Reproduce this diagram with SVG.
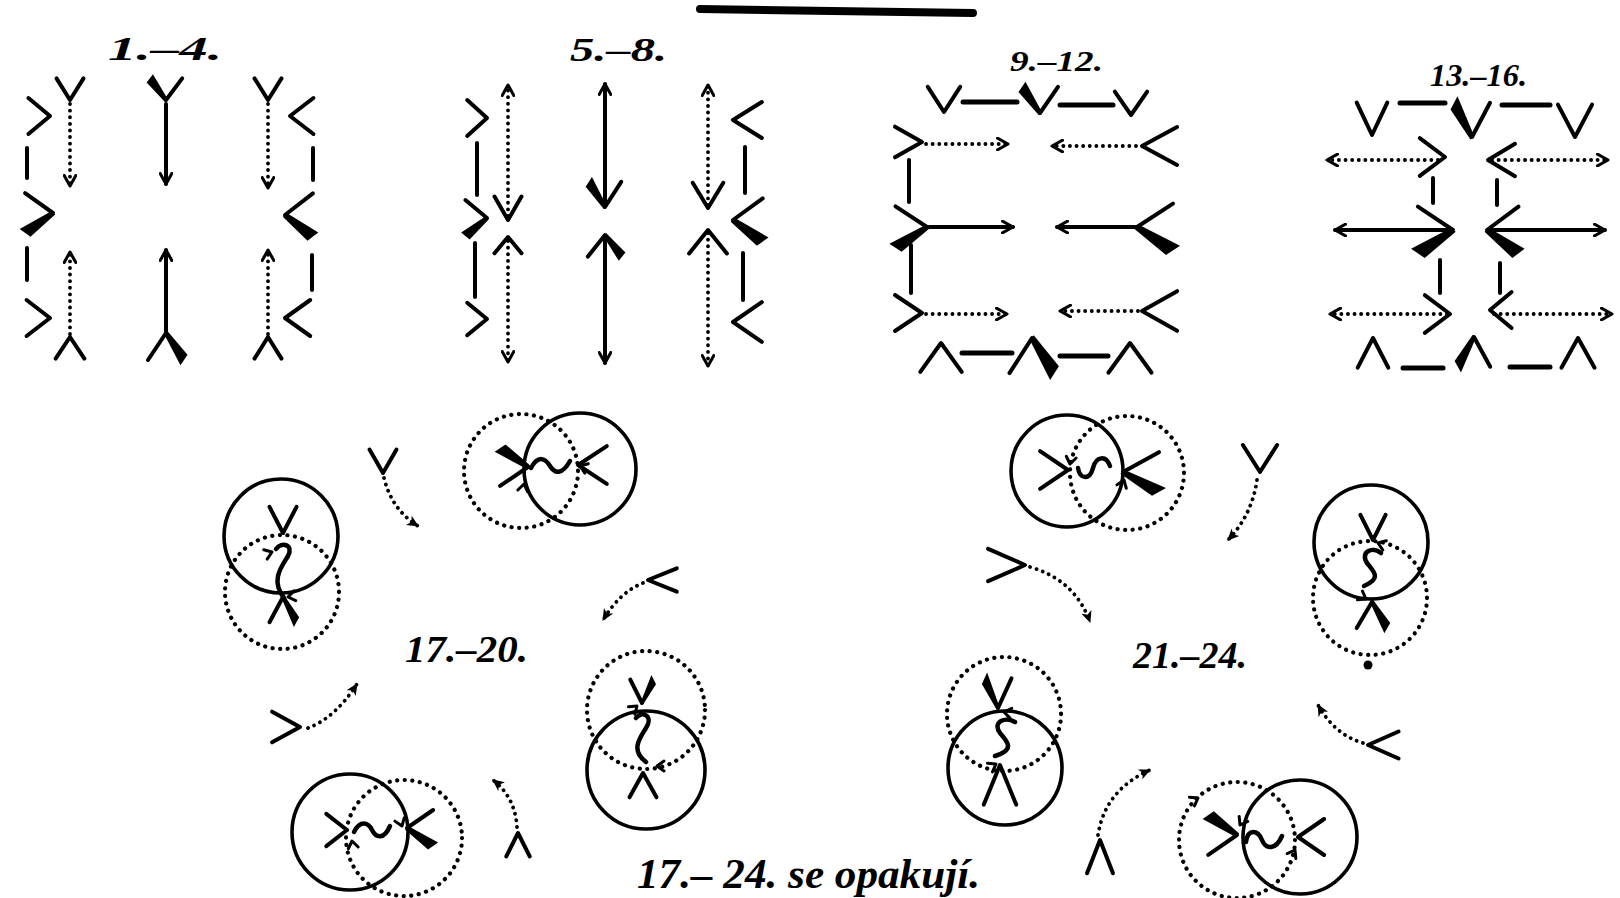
<svg xmlns="http://www.w3.org/2000/svg" width="1620" height="898" viewBox="0 0 1620 898">
<style>
.t{font-family:"Liberation Serif","DejaVu Serif",serif;font-style:italic;font-weight:bold;fill:#000}
.s{fill:none;stroke:#000;stroke-width:4;stroke-linecap:round;stroke-linejoin:round}
.d{fill:none;stroke:#000;stroke-width:3.8;stroke-linecap:round;stroke-dasharray:0.1 6.5}
.c{fill:none;stroke:#000;stroke-width:3.6}
.cd{fill:none;stroke:#000;stroke-width:4.2;stroke-linecap:round;stroke-dasharray:0.1 7.5}
.w{fill:none;stroke:#000;stroke-width:5;stroke-linecap:round}
.g{fill:none;stroke:#000;stroke-width:4.5;stroke-linecap:round;stroke-linejoin:round}
</style>
<defs>
<marker id="ao" viewBox="0 0 12 12" refX="10" refY="6" markerWidth="14" markerHeight="14" markerUnits="userSpaceOnUse" orient="auto"><path d="M1,1 L10,6 L1,11" fill="none" stroke="#000" stroke-width="2.6" stroke-linecap="round" stroke-linejoin="round"/></marker>
<marker id="af" viewBox="0 0 12 12" refX="10" refY="6" markerWidth="13" markerHeight="13" markerUnits="userSpaceOnUse" orient="auto"><path d="M0,1 L11,6 L0,11 L3,6 z" fill="#000"/></marker>
<path id="c" d="M-18,-18 L0,0 L-18,18" fill="none" stroke="#000" stroke-width="4" stroke-linecap="round" stroke-linejoin="round" vector-effect="non-scaling-stroke"/>
<g id="cb"><path d="M-18,-18 L0,0" fill="none" stroke="#000" stroke-width="4" stroke-linecap="round" vector-effect="non-scaling-stroke"/><polygon points="1.4,1.4 -14.5,21.5 -21.5,14.5 -1.4,-1.4" fill="#000"/></g>
<path id="sa" d="M-7,-5 L0,0 L-7,5" fill="none" stroke="#000" stroke-width="3" stroke-linecap="round" stroke-linejoin="round"/>
</defs>
<rect width="1620" height="898" fill="#fff"/>
<path d="M700,9 L973,13" stroke="#000" stroke-width="8" stroke-linecap="round" fill="none"/>

<g id="p1-4">
<text class="t" x="108" y="60" font-size="34" textLength="114" lengthAdjust="spacingAndGlyphs">1.–4.</text>
<use href="#c" transform="translate(70,100) rotate(90) scale(1.2,0.75)"/>
<use href="#c" transform="translate(50,116) scale(1.2,1.0)"/>
<line class="s" x1="27" y1="148" x2="27" y2="178"/>
<use href="#cb" transform="translate(53,213) scale(1.55,1.1)"/>
<line class="s" x1="27" y1="248" x2="27" y2="280"/>
<use href="#c" transform="translate(50,318) scale(1.3,1.0)"/>
<use href="#c" transform="translate(70,337) rotate(-90) scale(1.2,0.8)"/>
<use href="#cb" transform="translate(166,100) rotate(90) scale(1.2,0.9)"/>
<use href="#cb" transform="translate(166,333) rotate(-90) scale(1.5,1.0)"/>
<use href="#c" transform="translate(268,100) rotate(90) scale(1.2,0.75)"/>
<use href="#c" transform="translate(290,116) scale(-1.3,1.0)"/>
<line class="s" x1="313" y1="148" x2="313" y2="180"/>
<use href="#cb" transform="translate(285,215) scale(-1.55,1.2)"/>
<line class="s" x1="312" y1="255" x2="312" y2="290"/>
<use href="#c" transform="translate(285,318) scale(-1.4,1.0)"/>
<use href="#c" transform="translate(268,337) rotate(-90) scale(1.2,0.75)"/>
</g>

<g id="p5-8">
<text class="t" x="570" y="61" font-size="34" textLength="97" lengthAdjust="spacingAndGlyphs">5.–8.</text>
<use href="#c" transform="translate(487,118) scale(1.1,1.0)"/>
<line class="s" x1="477" y1="143" x2="477" y2="195"/>
<use href="#cb" transform="translate(487,218) scale(1.2,1.0)"/>
<line class="s" x1="475" y1="243" x2="475" y2="297"/>
<use href="#c" transform="translate(487,319) scale(1.1,0.9)"/>
<use href="#c" transform="translate(508,220) rotate(90) scale(1.3,0.75)"/>
<use href="#c" transform="translate(508,237) rotate(-90) scale(0.9,0.75)"/>
<use href="#cb" transform="translate(605,207) rotate(90) scale(1.4,0.9)"/>
<use href="#cb" transform="translate(605,235) rotate(-90) scale(1.2,0.95)"/>
<use href="#c" transform="translate(708,208) rotate(90) scale(1.4,0.85)"/>
<use href="#c" transform="translate(708,230) rotate(-90) scale(1.3,1.05)"/>
<use href="#c" transform="translate(733,120) scale(-1.6,1.0)"/>
<line class="s" x1="745" y1="147" x2="745" y2="193"/>
<use href="#cb" transform="translate(733,220) scale(-1.65,1.2)"/>
<line class="s" x1="743" y1="253" x2="743" y2="300"/>
<use href="#c" transform="translate(733,322) scale(-1.6,1.1)"/>
</g>

<g id="p9-12">
<text class="t" x="1010" y="71" font-size="30" textLength="93" lengthAdjust="spacingAndGlyphs">9.–12.</text>
<use href="#c" transform="translate(944,112) rotate(90) scale(1.4,0.9)"/>
<line class="w" x1="963" y1="102" x2="1017" y2="102"/>
<use href="#cb" transform="translate(1040,113) rotate(90) scale(1.45,1.0)"/>
<line class="w" x1="1060" y1="105" x2="1113" y2="105"/>
<use href="#c" transform="translate(1131,115) rotate(90) scale(1.3,0.9)"/>
<use href="#c" transform="translate(922,142) scale(1.5,0.85)"/>
<use href="#c" transform="translate(1142,146) scale(-1.95,1.05)"/>
<line class="s" x1="909" y1="160" x2="909" y2="202"/>
<use href="#cb" transform="translate(927,227) scale(1.75,1.15)"/>
<use href="#cb" transform="translate(1137,227) scale(-2.0,1.3)"/>
<line class="s" x1="911" y1="245" x2="911" y2="293"/>
<use href="#c" transform="translate(922,313) scale(1.5,1.0)"/>
<use href="#c" transform="translate(1142,311) scale(-1.95,1.1)"/>
<use href="#c" transform="translate(941,343) rotate(-90) scale(1.6,1.15)"/>
<line class="w" x1="962" y1="353" x2="1012" y2="353"/>
<use href="#cb" transform="translate(1032,338) rotate(-90) scale(1.95,1.25)"/>
<line class="w" x1="1060" y1="356" x2="1108" y2="356"/>
<use href="#c" transform="translate(1130,343) rotate(-90) scale(1.65,1.2)"/>
</g>

<g id="p13-16">
<text class="t" x="1430" y="86" font-size="32" textLength="97" lengthAdjust="spacingAndGlyphs">13.–16.</text>
<use href="#c" transform="translate(1372,135) rotate(90) scale(1.8,0.85)"/>
<line class="w" x1="1400" y1="103" x2="1445" y2="103"/>
<use href="#cb" transform="translate(1472,137) rotate(90) scale(1.9,1.0)"/>
<line class="w" x1="1502" y1="105" x2="1550" y2="105"/>
<use href="#c" transform="translate(1575,137) rotate(90) scale(1.8,0.95)"/>
<use href="#c" transform="translate(1445,157) scale(1.4,1.05)"/>
<use href="#c" transform="translate(1488,160) scale(-1.5,0.9)"/>
<line class="s" x1="1433" y1="178" x2="1433" y2="203"/>
<line class="s" x1="1497" y1="180" x2="1497" y2="205"/>
<use href="#cb" transform="translate(1453,230) scale(1.95,1.3)"/>
<use href="#cb" transform="translate(1487,230) scale(-1.75,1.3)"/>
<line class="s" x1="1440" y1="260" x2="1440" y2="293"/>
<line class="s" x1="1500" y1="263" x2="1500" y2="293"/>
<use href="#c" transform="translate(1450,314) scale(1.4,1.05)"/>
<use href="#c" transform="translate(1490,310) scale(-1.2,1.0)"/>
<use href="#c" transform="translate(1373,338) rotate(-90) scale(1.65,0.85)"/>
<line class="w" x1="1403" y1="368" x2="1443" y2="368"/>
<use href="#cb" transform="translate(1474,337) rotate(-90) scale(1.65,-0.9)"/>
<line class="w" x1="1510" y1="367" x2="1550" y2="367"/>
<use href="#c" transform="translate(1578,338) rotate(-90) scale(1.65,0.92)"/>
</g>

<g id="p17-20">
<text class="t" x="405" y="662" font-size="38" textLength="123" lengthAdjust="spacingAndGlyphs">17.–20.</text>
<g id="f17a">
<circle class="cd" cx="521" cy="471" r="57"/>
<circle class="c" cx="580" cy="469" r="56"/>
<use href="#cb" transform="translate(528,467) scale(1.55,-1.05)"/>
<path class="g" d="M531,468 C538,455 545,458 550,466 S562,475 570,461"/>
<use href="#c" transform="translate(578,465) scale(-1.6,1.05)"/>
<use href="#sa" transform="translate(524,484) rotate(-80)"/>
<use href="#sa" transform="translate(580,466) rotate(200)"/>
</g>
<g id="f17b">
<circle class="c" cx="281" cy="536" r="57"/>
<circle class="cd" cx="282" cy="592" r="57"/>
<use href="#c" transform="translate(283,533) rotate(90) scale(1.45,0.75)"/>
<path class="g" d="M276,549 C282,541 294,545 288,556 C282,566 270,580 284,598"/>
<use href="#cb" transform="translate(283,597) rotate(-90) scale(1.4,0.75)"/>
<use href="#sa" transform="translate(288,597) rotate(170)"/>
<use href="#sa" transform="translate(272,552) rotate(-20)"/>
</g>
<g id="f17c">
<circle class="cd" cx="646" cy="710" r="59"/>
<circle class="c" cx="646" cy="770" r="59"/>
<use href="#cb" transform="translate(642,703) rotate(90) scale(1.3,-0.65)"/>
<path class="g" d="M636,718 C642,710 654,716 646,728 C640,738 630,750 646,762"/>
<use href="#c" transform="translate(643,773) rotate(-90) scale(1.35,0.75)"/>
<use href="#sa" transform="translate(637,706) rotate(-40)"/>
<use href="#sa" transform="translate(657,766) rotate(180)"/>
</g>
<g id="f17d">
<circle class="c" cx="350" cy="832" r="58"/>
<circle class="cd" cx="404" cy="838" r="58"/>
<use href="#c" transform="translate(347,830) scale(1.15,0.9)"/>
<path class="g" d="M354,832 C360,820 368,822 372,830 S384,840 390,826"/>
<use href="#cb" transform="translate(407,828) scale(-1.45,1.0)"/>
<use href="#sa" transform="translate(402,826) rotate(70)"/>
<use href="#sa" transform="translate(352,841) rotate(-100)"/>
</g>
<use href="#c" transform="translate(383,473) rotate(90) scale(1.3,0.75)"/>
<use href="#c" transform="translate(648,580) scale(-1.6,0.65)"/>
<use href="#c" transform="translate(300,727) scale(1.55,0.85)"/>
<use href="#c" transform="translate(518,833) rotate(-90) scale(1.3,0.65)"/>
</g>

<g id="p21-24">
<text class="t" x="1133" y="668" font-size="38" textLength="114" lengthAdjust="spacingAndGlyphs">21.–24.</text>
<g id="f21a">
<circle class="c" cx="1067" cy="471" r="56"/>
<circle class="cd" cx="1127" cy="473" r="57"/>
<use href="#c" transform="translate(1068,470) scale(1.55,1.05)"/>
<path class="g" d="M1078,468 C1080,480 1090,480 1093,468 C1096,456 1106,455 1110,466"/>
<use href="#cb" transform="translate(1123,472) scale(-2.0,1.1)"/>
<use href="#sa" transform="translate(1070,464) rotate(100)"/>
<use href="#sa" transform="translate(1124,480) rotate(-70)"/>
</g>
<g id="f21b">
<circle class="c" cx="1371" cy="542" r="57"/>
<circle class="cd" cx="1370" cy="598" r="57"/>
<use href="#c" transform="translate(1373,540) rotate(90) scale(1.4,0.7)"/>
<path class="g" d="M1381,553 C1372,546 1360,552 1367,563 C1374,572 1382,578 1364,586"/>
<use href="#cb" transform="translate(1372,602) rotate(-90) scale(1.45,0.85)"/>
<circle cx="1368" cy="665" r="4.5" fill="#000"/>
<use href="#sa" transform="translate(1378,543) rotate(200)"/>
<use href="#sa" transform="translate(1366,599) rotate(30)"/>
</g>
<g id="f21c">
<circle class="cd" cx="1004" cy="714" r="57"/>
<circle class="c" cx="1005" cy="768" r="57"/>
<use href="#cb" transform="translate(998,708) rotate(90) scale(1.65,0.75)"/>
<path class="g" d="M1015,722 C1005,716 992,722 1000,733 C1008,742 1015,750 995,756"/>
<use href="#c" transform="translate(1000,765) rotate(-90) scale(2.2,0.9)"/>
<use href="#sa" transform="translate(1004,712) rotate(190)"/>
<use href="#sa" transform="translate(996,764) rotate(-30)"/>
</g>
<g id="f21d">
<circle class="cd" cx="1237" cy="840" r="58"/>
<circle class="c" cx="1300" cy="837" r="57"/>
<use href="#cb" transform="translate(1237,835) scale(1.6,-1.1)"/>
<path class="g" d="M1246,842 C1248,828 1258,830 1262,840 C1266,850 1276,850 1282,836"/>
<use href="#c" transform="translate(1298,837) scale(-1.45,1.0)"/>
<use href="#sa" transform="translate(1240,825) rotate(120)"/>
<use href="#sa" transform="translate(1295,850) rotate(-60)"/>
<use href="#sa" transform="translate(1198,798) rotate(-30)"/>
</g>
<use href="#c" transform="translate(1260,472) rotate(90) scale(1.5,0.95)"/>
<use href="#c" transform="translate(1368,745) scale(-1.7,0.75)"/>
<use href="#c" transform="translate(1025,565) scale(2.05,0.9)"/>
<use href="#c" transform="translate(1100,840) rotate(-90) scale(1.85,0.72)"/>
</g>

<text class="t" x="637" y="888" font-size="42" textLength="343" lengthAdjust="spacingAndGlyphs">17.– 24. se opakují.</text>

<g id="connectors">
<line class="d" x1="70" y1="104" x2="70" y2="186" marker-end="url(#ao)"/>
<line class="d" x1="70" y1="334" x2="70" y2="252" marker-end="url(#ao)"/>
<line class="s" x1="166" y1="104" x2="166" y2="184" marker-end="url(#ao)"/>
<line class="s" x1="166" y1="331" x2="166" y2="250" marker-end="url(#ao)"/>
<line class="d" x1="268" y1="104" x2="268" y2="188" marker-end="url(#ao)"/>
<line class="d" x1="268" y1="334" x2="268" y2="250" marker-end="url(#ao)"/>
<line class="d" x1="508" y1="216" x2="508" y2="85" marker-end="url(#ao)"/>
<line class="d" x1="508" y1="241" x2="508" y2="362" marker-end="url(#ao)"/>
<line class="s" x1="605" y1="204" x2="605" y2="84" marker-end="url(#ao)"/>
<line class="s" x1="605" y1="238" x2="605" y2="363" marker-end="url(#ao)"/>
<line class="d" x1="708" y1="205" x2="708" y2="85" marker-end="url(#ao)"/>
<line class="d" x1="708" y1="233" x2="708" y2="366" marker-end="url(#ao)"/>
<line class="d" x1="926" y1="144" x2="1008" y2="144" marker-end="url(#ao)"/>
<line class="d" x1="1136" y1="146" x2="1052" y2="146" marker-end="url(#ao)"/>
<line class="s" x1="929" y1="227" x2="1013" y2="227" marker-end="url(#ao)"/>
<line class="s" x1="1135" y1="227" x2="1057" y2="227" marker-end="url(#ao)"/>
<line class="d" x1="926" y1="314" x2="1007" y2="314" marker-end="url(#ao)"/>
<line class="d" x1="1138" y1="311" x2="1060" y2="311" marker-end="url(#ao)"/>
<line class="d" x1="1438" y1="160" x2="1327" y2="160" marker-end="url(#ao)"/>
<line class="d" x1="1492" y1="160" x2="1608" y2="160" marker-end="url(#ao)"/>
<line class="s" x1="1450" y1="230" x2="1335" y2="230" marker-end="url(#ao)"/>
<line class="s" x1="1490" y1="230" x2="1605" y2="230" marker-end="url(#ao)"/>
<line class="d" x1="1447" y1="314" x2="1330" y2="314" marker-end="url(#ao)"/>
<line class="d" x1="1494" y1="314" x2="1612" y2="314" marker-end="url(#ao)"/>
<path class="d" d="M384,478 Q392,510 418,526" marker-end="url(#af)"/>
<path class="d" d="M643,583 Q620,592 603,620" marker-end="url(#af)"/>
<path class="d" d="M308,728 Q335,718 357,684" marker-end="url(#af)"/>
<path class="d" d="M517,827 Q515,797 493,780" marker-end="url(#af)"/>
<path class="d" d="M1257,480 Q1252,515 1228,540" marker-end="url(#af)"/>
<path class="d" d="M1363,743 Q1335,735 1318,705" marker-end="url(#af)"/>
<path class="d" d="M1030,567 Q1075,580 1090,622" marker-end="url(#af)"/>
<path class="d" d="M1098,835 Q1105,790 1150,770" marker-end="url(#af)"/>
</g>
</svg>
